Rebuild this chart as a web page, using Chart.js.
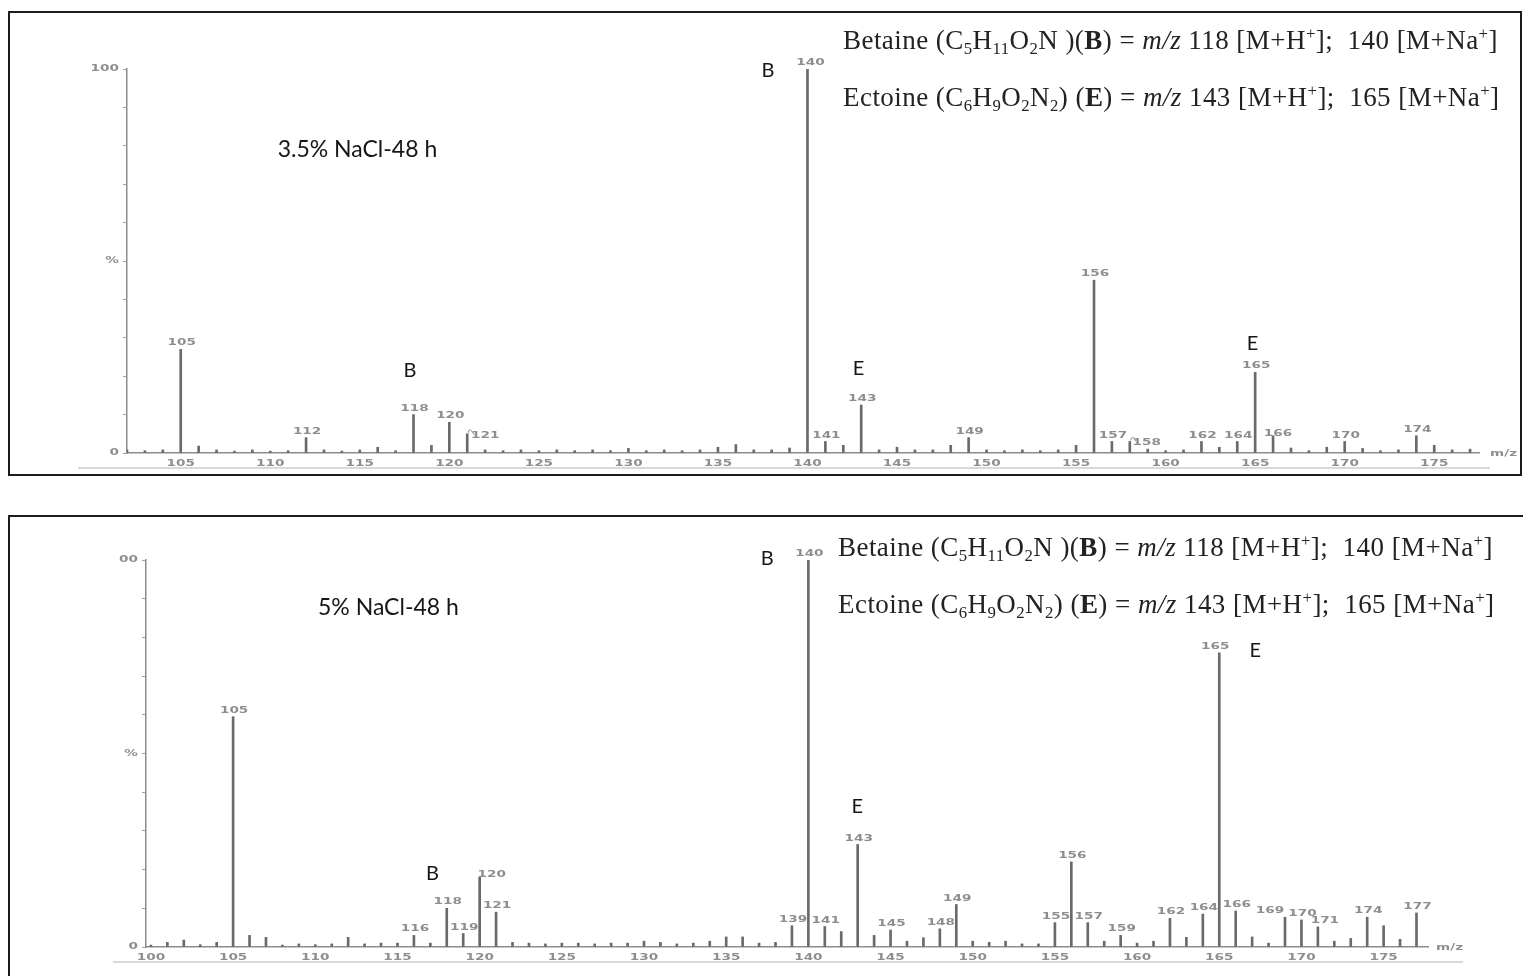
<!DOCTYPE html>
<html>
<head>
<meta charset="utf-8">
<script src="https://cdn.jsdelivr.net/npm/chart.js@4.4.1/dist/chart.umd.min.js"></script>
<style>
  html, body { margin: 0; padding: 0; background: #fff; width: 1523px; height: 976px; overflow: hidden; }
  canvas { position: absolute; left: 0; }
  .frame { position: absolute; border: 2px solid #1c1c1c; box-sizing: border-box; pointer-events: none; }
</style>
</head>
<body>
<canvas id="specA" width="1523" height="476" style="top:0"></canvas>
<canvas id="specB" width="1523" height="476" style="top:500px"></canvas>
<div class="frame" style="left:8px;top:11px;width:1514px;height:465px"></div>
<div class="frame" style="left:8px;top:515px;width:1520px;height:480px"></div>

<script>
// ---- 3.5% NaCl, 48 h : m/z and relative intensity (%) ----
const mzA = [102,103,104,105,106,107,108,109,110,111,112,113,114,115,116,117,118,119,120,121,
  122,123,124,125,126,127,128,129,130,131,132,133,134,135,136,137,138,139,140,141,142,143,144,
  145,146,147,148,149,150,151,152,153,154,155,156,157,158,159,160,161,162,163,164,165,166,167,
  168,169,170,171,172,173,174,175,176,177];
const intA = [0.8,0.6,0.8,27,1.8,0.8,0.5,0.8,0.5,0.6,4,0.8,0.5,0.8,1.5,0.6,10,2,8,5,
  0.8,0.6,0.8,0.6,0.8,0.6,0.8,0.6,1.2,0.6,0.8,0.6,0.8,1.5,2.2,0.8,0.8,1.3,100,3,2,12.5,0.8,
  1.5,0.8,0.8,2,4,0.8,0.6,0.8,0.6,0.8,2,45,3,3,1,0.6,0.8,3,1.5,3,21,4.5,1.3,
  0.6,1.5,3,1.2,0.6,0.8,4.5,2,0.8,1];
const labelledA = [105,112,118,120,121,140,141,143,149,156,157,158,162,164,165,166,170,174];

// ---- 5% NaCl, 48 h ----
const mzB = [100,101,102,103,104,105,106,107,108,109,110,111,112,113,114,115,116,117,118,119,
  120,121,122,123,124,125,126,127,128,129,130,131,132,133,134,135,136,137,138,139,140,141,142,
  143,144,145,146,147,148,149,150,151,152,153,154,155,156,157,158,159,160,161,162,163,164,165,
  166,167,168,169,170,171,172,173,174,175,176,177];
const intB = [0.5,1.2,1.8,0.6,1.2,59.5,3,2.5,0.5,0.8,0.6,0.8,2.5,0.8,1,1,3,1,10,3.5,
  18,9,1.2,1,0.8,1,1,0.8,1,1,1.5,1.2,0.8,1,1.5,2.6,2.6,1,1.2,5.5,100,5.3,4,
  26.5,3,4.4,1.5,2.4,4.7,11,1.5,1.2,1.5,0.8,0.8,6.3,22,6.3,1.5,3,1,1.5,7.4,2.5,8.5,76,
  9.3,2.6,1,7.7,7,5.2,1.5,2.2,7.7,5.5,2,8.8];
const labelledB = [105,116,118,119,120,121,139,140,141,143,145,148,149,155,156,157,159,162,164,
  165,166,169,170,171,174,177];

// axis ticks
const xTickValues = [100,105,110,115,120,125,130,135,140,145,150,155,160,165,170,175];
const yTickValues = [0,10,20,30,40,50,60,70,80,90,100];
const yTextA = {0: '0', 50: '%', 100: '100'};
const yTextB = {0: '0', 50: '%', 100: '00'};

// annotation text
const titleA = '3.5% NaCl-48 h';
const titleB = '5% NaCl-48 h';
const betaineLine = ['Betaine (C', ['5','sub'], 'H', ['11','sub'], 'O', ['2','sub'], 'N )(', ['B','b'], ') = ',
  ['m/z','i'], ' 118 [M+H', ['+','sup'], '];  140 [M+Na', ['+','sup'], ']'];
const ectoineLine = ['Ectoine (C', ['6','sub'], 'H', ['9','sub'], 'O', ['2','sub'], 'N', ['2','sub'], ') (', ['E','b'],
  ') = ', ['m/z','i'], ' 143 [M+H', ['+','sup'], '];  165 [M+Na', ['+','sup'], ']'];

// instrument-style small print: wide, flat digits
const SMALL_FONT = 'bold 8px "DejaVu Sans", sans-serif';
const SMALL_COLOR = '#8e8e8e';
const STRETCH = 1.7;

function wideText(ctx, t, x, y, align) {
  const w = ctx.measureText(t).width * STRETCH;
  const left = align === 'center' ? x - w / 2 : align === 'right' ? x - w : x;
  ctx.save();
  ctx.translate(left, y);
  ctx.scale(STRETCH, 1);
  ctx.textAlign = 'left';
  ctx.fillText(t, 0, 0);
  ctx.restore();
}

function drawRich(ctx, segs, x, y, size) {
  ctx.textAlign = 'left';
  ctx.textBaseline = 'alphabetic';
  ctx.letterSpacing = '0.45px';
  let cx = x;
  segs.forEach(seg => {
    let t = seg, kind = '';
    if (Array.isArray(seg)) { t = seg[0]; kind = seg[1]; }
    let fs = size, dy = 0, style = '';
    if (kind === 'sub') { fs = size * 0.62; dy = size * 0.2; }
    if (kind === 'sup') { fs = size * 0.62; dy = -size * 0.38; }
    if (kind === 'b') style = 'bold ';
    if (kind === 'i') style = 'italic ';
    ctx.font = style + fs + 'px "Liberation Serif", "Times New Roman", serif';
    ctx.fillText(t, cx, y + dy);
    cx += ctx.measureText(t).width;
  });
  ctx.letterSpacing = '0px';
}

function textLayer(s) {
  return {
    id: 'textLayer',
    afterDraw(chart) {
      const { ctx } = chart;
      const x = chart.scales.x, y = chart.scales.y;
      ctx.save();
      ctx.font = SMALL_FONT;
      ctx.fillStyle = SMALL_COLOR;
      ctx.textBaseline = 'middle';
      // axis numbers
      x.ticks.forEach(t => wideText(ctx, String(t.value), x.getPixelForValue(t.value), y.bottom + 11, 'center'));
      y.ticks.forEach(t => {
        const lab = s.yText[t.value];
        if (lab) wideText(ctx, lab, x.left - 8, y.getPixelForValue(t.value), 'right');
      });
      wideText(ctx, 'm/z', x.right + s.mzLabelGap, y.bottom + 1, 'left');
      // peak labels
      ctx.textBaseline = 'bottom';
      s.labelled.forEach(m => {
        const i = s.mz.indexOf(m);
        const sh = s.labelShift[m] || [0, 0];
        const px = x.getPixelForValue(m), py = y.getPixelForValue(s.inten[i]);
        wideText(ctx, String(m), px + sh[0] + 1, py - 2 + sh[1], 'center');
        if (s.leaders.includes(m)) {
          ctx.strokeStyle = SMALL_COLOR; ctx.lineWidth = 1;
          ctx.beginPath();
          ctx.moveTo(px + 1, py - 1);
          ctx.quadraticCurveTo(px + 2, py - 8, px + sh[0] - 10, py + sh[1] - 7);
          ctx.stroke();
        }
      });
      // rule under the scale
      ctx.strokeStyle = '#b4b4b4'; ctx.lineWidth = 1.2;
      ctx.beginPath();
      ctx.moveTo(s.rule[0], s.rule[2]); ctx.lineTo(s.rule[1], s.rule[2]);
      ctx.stroke();
      // compound letters and title
      ctx.fillStyle = '#161616';
      ctx.textAlign = 'center'; ctx.textBaseline = 'middle';
      ctx.font = '20px Lato, sans-serif';
      s.letters.forEach(L => ctx.fillText(L.t, x.getPixelForValue(L.x), y.getPixelForValue(L.y)));
      ctx.font = '23px Lato, sans-serif';
      ctx.fillText(s.title.t, x.getPixelForValue(s.title.x), y.getPixelForValue(s.title.y));
      // formulae
      ctx.fillStyle = '#222';
      drawRich(ctx, betaineLine, s.formula[0], s.formula[1], 27);
      drawRich(ctx, ectoineLine, s.formula[0], s.formula[2], 27);
      ctx.restore();
    }
  };
}

function makeSpectrum(id, s) {
  const pts = s.mz.map((m, i) => ({ x: m, y: s.inten[i] }));
  return new Chart(document.getElementById(id), {
    type: 'bar',
    data: { datasets: [{ data: pts, backgroundColor: '#6a6a6a', borderWidth: 0, barThickness: 2, grouped: false }] },
    options: {
      responsive: false, animation: false, events: [],
      layout: { padding: s.pad },
      plugins: { legend: { display: false }, tooltip: { enabled: false } },
      scales: {
        x: {
          type: 'linear', min: s.xMin, max: s.xMax, offset: false,
          afterBuildTicks: ax => { ax.ticks = xTickValues.filter(v => v >= ax.min && v <= ax.max).map(v => ({ value: v })); },
          afterFit: sc => { sc.height = 20; },
          grid: { display: false },
          border: { display: true, color: '#8c8c8c', width: 1.5 },
          ticks: { display: false }
        },
        y: {
          min: 0, max: 100,
          afterBuildTicks: ax => { ax.ticks = yTickValues.map(v => ({ value: v })); },
          afterFit: sc => { sc.width = 40; },
          grid: { drawOnChartArea: false, drawTicks: true, tickLength: 4, color: '#a0a0a0', lineWidth: 1 },
          border: { display: true, color: '#8c8c8c', width: 1.5 },
          ticks: { display: false }
        }
      }
    },
    plugins: [textLayer(s)]
  });
}

makeSpectrum('specA', {
  mz: mzA, inten: intA, labelled: labelledA, yText: yTextA,
  xMin: 102, xMax: 177.5,
  pad: { left: 87, right: 44, top: 69, bottom: 3 },
  labelShift: { 121: [17, 8], 158: [16, 7], 166: [4, 4], 140: [2, 0] },
  leaders: [121, 158],
  letters: [ { t: 'B', x: 137.8, y: 99.7 }, { t: 'B', x: 117.8, y: 21.6 },
             { t: 'E', x: 142.85, y: 22.1 }, { t: 'E', x: 164.85, y: 28.4 } ],
  title: { t: titleA, x: 114.87, y: 78.9 },
  formula: [843, 49, 106],
  mzLabelGap: 11,
  rule: [78, 1490, 468]
});

makeSpectrum('specB', {
  mz: mzB, inten: intB, labelled: labelledB, yText: yTextB,
  xMin: 99.7, xMax: 177.7,
  pad: { left: 106, right: 95, top: 60, bottom: 9 },
  labelShift: { 120: [11, 4], 169: [-16, 0], 171: [6, 0], 165: [-5, 0] },
  leaders: [],
  letters: [ { t: 'B', x: 137.5, y: 100.5 }, { t: 'B', x: 117.13, y: 18.9 },
             { t: 'E', x: 142.98, y: 36.4 }, { t: 'E', x: 167.19, y: 76.7 } ],
  title: { t: titleB, x: 114.45, y: 87.6 },
  formula: [838, 56, 113],
  mzLabelGap: 8,
  rule: [113, 1463, 462]
});
</script>
</body>
</html>
